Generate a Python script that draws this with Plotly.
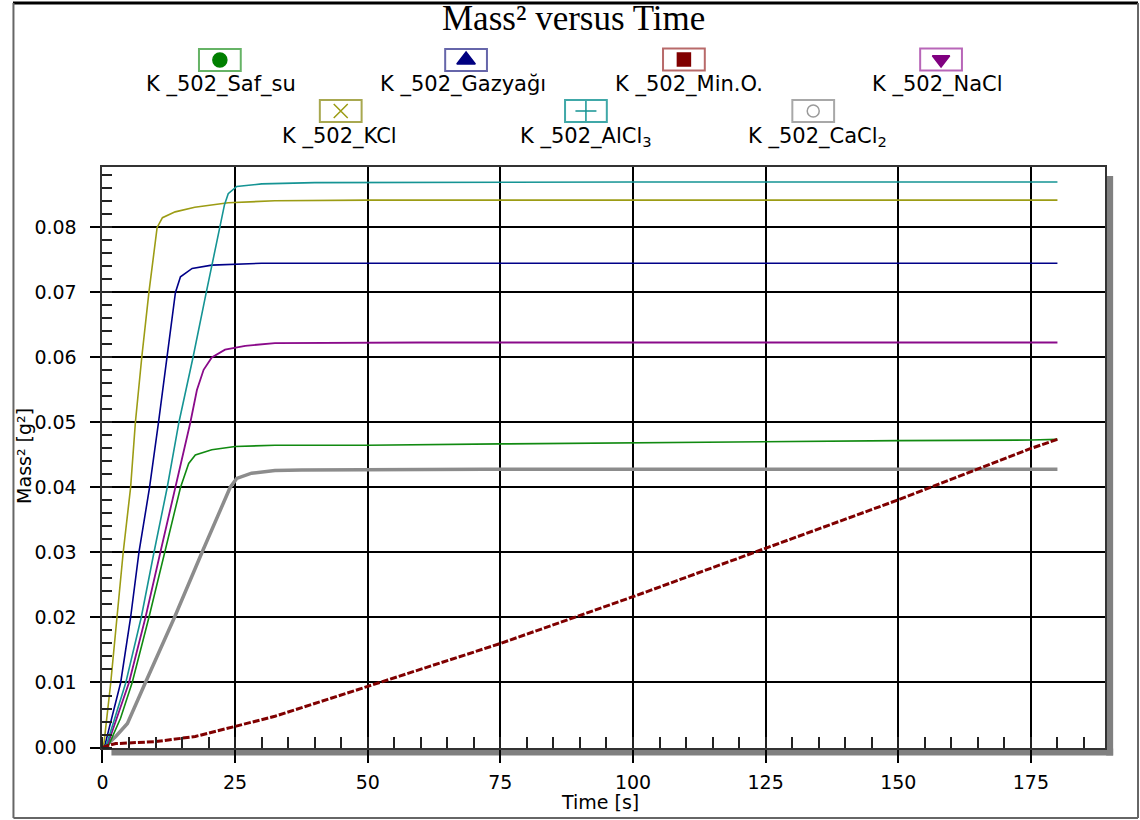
import plotly.graph_objects as go

W, H = 1140, 820          # target picture size
H_LAYOUT = 831            # layout height (the photo is squeezed vertically to 820)
KY = H_LAYOUT / H

# ---------------- data ----------------
t_saf = [0, 1.2, 3.4, 5.6, 8.75, 11.75, 14.7, 16.25, 17.5, 20.6, 25, 32.5, 50, 75, 100, 125, 150, 175, 180]
v_saf = [0, 0.0004, 0.0045, 0.010, 0.020, 0.030, 0.040, 0.0437, 0.0450, 0.0458, 0.0463, 0.0465, 0.0465, 0.0467, 0.0469, 0.0470, 0.0472, 0.0473, 0.0474]

t_gaz = [0, 0.5, 3.43, 5.3, 6.87, 8.87, 10.56, 12.2, 13.75, 14.7, 16.9, 20.6, 30, 60, 100, 150, 180]
v_gaz = [0, 0.0005, 0.010, 0.020, 0.030, 0.040, 0.050, 0.060, 0.070, 0.0724, 0.0737, 0.0742, 0.0745, 0.0745, 0.0745, 0.0745, 0.0745]

t_min = [0, 1, 2.5, 10, 17.5, 25, 32.5, 50, 75, 100, 109.4, 125, 150, 175, 180]
v_min = [0, 0.0003, 0.0006, 0.0009, 0.0017, 0.0032, 0.0048, 0.0094, 0.0160, 0.0232, 0.0260, 0.0306, 0.0381, 0.0460, 0.0474]

t_nacl = [0, 1, 5.0, 8.1, 10.9, 13.75, 16.56, 17.8, 19.06, 20.6, 23.1, 26.9, 32.5, 60, 100, 150, 180]
v_nacl = [0, 0.0005, 0.010, 0.020, 0.030, 0.040, 0.050, 0.055, 0.0581, 0.060, 0.0612, 0.0618, 0.0622, 0.0623, 0.0623, 0.0623, 0.0623]

t_kcl = [0, 0.3, 1.56, 2.7, 3.9, 5.3, 6.2, 7.4, 8.75, 10.3, 11.3, 13.7, 17.4, 23.7, 32.5, 50, 100, 150, 180]
v_kcl = [0, 0.0008, 0.010, 0.020, 0.030, 0.040, 0.050, 0.060, 0.070, 0.080, 0.0815, 0.0824, 0.0831, 0.0838, 0.0841, 0.0842, 0.0842, 0.0842, 0.0842]

t_alcl = [0, 0.8, 4.4, 7.3, 9.7, 12.2, 14.4, 17.06, 19.56, 22.2, 23.0, 23.7, 25.3, 30, 40, 100, 150, 180]
v_alcl = [0, 0.0005, 0.010, 0.020, 0.030, 0.040, 0.050, 0.060, 0.070, 0.080, 0.0835, 0.0852, 0.0863, 0.0867, 0.0869, 0.0870, 0.0870, 0.0870]

t_cacl = [0, 0.5, 2.5, 4.7, 8.1, 13.56, 18.75, 24.06, 25.3, 28.1, 32.5, 37.5, 72, 120, 180]
v_cacl = [0, 0.0002, 0.0017, 0.0037, 0.010, 0.020, 0.030, 0.040, 0.0414, 0.0422, 0.0426, 0.0427, 0.0428, 0.0428, 0.0428]

series_names = ["K _502_Saf_su", "K _502_Gazyağı", "K _502_Min.O.", "K _502_NaCl",
                "K _502_KCl", "K _502_AlCl<sub>3</sub>", "K _502_CaCl<sub>2</sub>"]

x_ticks = [0, 25, 50, 75, 100, 125, 150, 175]
y_ticks = [0.00, 0.01, 0.02, 0.03, 0.04, 0.05, 0.06, 0.07, 0.08]

# ---------------- styling ----------------
FONT = "DejaVu Sans"

def px(x):
    return x / W

def py(y):
    return 1 - y / H

L, R, T, B = 97, 1105, 167, 747.5

fig = go.Figure()

traces = [
    (t_cacl, v_cacl, "#8c8c8c", 3.5, "solid"),
    (t_saf, v_saf, "#118a11", 1.6, "solid"),
    (t_gaz, v_gaz, "#000088", 1.6, "solid"),
    (t_nacl, v_nacl, "#8a0a8a", 1.8, "solid"),
    (t_kcl, v_kcl, "#9c9c14", 1.6, "solid"),
    (t_alcl, v_alcl, "#159494", 1.6, "solid"),
    (t_min, v_min, "#800000", 3, "7px,2px"),
]
for t, v, c, w, d in traces:
    fig.add_trace(go.Scatter(x=t, y=v, mode="lines", xaxis="x", yaxis="y",
                             line=dict(color=c, width=w, dash=d), showlegend=False,
                             hoverinfo="skip"))

leg = [
    (series_names[0], 215, 60, 216, 85, "circle", "#007f00", 14, "#66b366"),
    (series_names[1], 462.5, 60, 459, 85, "triangle-up", "#000080", 16, "#6666aa"),
    (series_names[2], 681.5, 59.5, 687, 85, "square", "#800000", 13, "#b86a6a"),
    (series_names[3], 940, 59.5, 936, 85, "triangle-down", "#800080", 15, "#b866b8"),
    (series_names[4], 336.5, 111, 335, 136, "x-thin-open", "#9c9c14", 14, "#a8a850"),
    (series_names[5], 583, 111, 583, 137, "cross-thin-open", "#159494", 15, "#40a8a8"),
    (series_names[6], 811.5, 111, 816, 137, "circle-open", "#9a9a9a", 12, "#a8a8a8"),
]

shapes = []
annotations = []
for name, bx, by, lx, ly, sym, mc, ms, bc in leg:
    shapes.append(dict(type="rect", xref="paper", yref="paper",
                       x0=px(bx - 21), x1=px(bx + 21), y0=py(by + 11), y1=py(by - 11),
                       line=dict(color=bc, width=2), fillcolor="rgba(0,0,0,0)", layer="above"))
    fig.add_trace(go.Scatter(x=[bx], y=[by], xaxis="x2", yaxis="y2", mode="markers",
                             marker=dict(symbol=sym, color=mc, size=ms,
                                         line=dict(color=mc, width=1.5)),
                             showlegend=False, hoverinfo="skip", cliponaxis=False))
    annotations.append(dict(x=px(lx), y=py(ly), xref="paper", yref="paper",
                            text=name, showarrow=False, xanchor="center", yanchor="middle",
                            font=dict(family=FONT, size=21, color="black")))

annotations.append(dict(x=px(570), y=py(18), xref="paper", yref="paper",
                        text="Mass² versus Time", showarrow=False,
                        xanchor="center", yanchor="middle",
                        font=dict(family="Liberation Serif", size=35, color="black")))
annotations.append(dict(x=px(597), y=py(802), xref="paper", yref="paper",
                        text="Time [s]", showarrow=False, xanchor="center", yanchor="middle",
                        font=dict(family=FONT, size=19, color="black")))
annotations.append(dict(x=px(18), y=py(456), xref="paper", yref="paper",
                        text="Mass² [g²]", showarrow=False, textangle=-90,
                        xanchor="center", yanchor="middle",
                        font=dict(family=FONT, size=19, color="black")))

# drop shadow of the plot area
shapes.append(dict(type="rect", xref="paper", yref="paper",
                   x0=px(R + 1), x1=px(R + 8), y0=py(B + 8), y1=py(T + 9),
                   line=dict(width=0), fillcolor="#808080", layer="below"))
shapes.append(dict(type="rect", xref="paper", yref="paper",
                   x0=px(L + 9), x1=px(R + 8), y0=py(B + 8), y1=py(B + 1),
                   line=dict(width=0), fillcolor="#808080", layer="below"))

# outer frame
shapes.append(dict(type="line", xref="paper", yref="paper", x0=px(7), x1=px(1138),
                   y0=py(3), y1=py(3), line=dict(color="black", width=3)))
shapes.append(dict(type="line", xref="paper", yref="paper", x0=px(7.5), x1=px(7.5),
                   y0=py(3), y1=py(818), line=dict(color="#666666", width=2)))
shapes.append(dict(type="line", xref="paper", yref="paper", x0=px(1138), x1=px(1138),
                   y0=py(3), y1=py(818), line=dict(color="#666666", width=2)))
shapes.append(dict(type="line", xref="paper", yref="paper", x0=px(7.5), x1=px(1138),
                   y0=py(818), y1=py(818), line=dict(color="#666666", width=2)))

fig.update_layout(
    width=W, height=H_LAYOUT, autosize=False,
    margin=dict(l=0, r=0, t=0, b=0, pad=0),
    paper_bgcolor="white", plot_bgcolor="rgba(0,0,0,0)",
    showlegend=False,
    shapes=shapes, annotations=annotations,
    xaxis=dict(domain=[px(L), px(R)], range=[0, 189], anchor="y",
               tickmode="array", tickvals=x_ticks, ticktext=[str(v) for v in x_ticks],
               ticks="outside", ticklen=13 * KY, tickwidth=1.5, tickcolor="black",
               ticklabelstandoff=4,
               showgrid=True, gridcolor="black", gridwidth=1.5,
               showline=True, linecolor="#333333", linewidth=2, mirror=True,
               zeroline=False,
               tickfont=dict(family=FONT, size=19, color="black"),
               minor=dict(dtick=5, tick0=0, ticks="inside", ticklen=10 * KY,
                          tickwidth=1.5, tickcolor="#222222", showgrid=False)),
    yaxis=dict(domain=[py(B), py(T)], range=[0, 0.0893], anchor="x",
               tickmode="array", tickvals=y_ticks, ticktext=[f"{v:.2f}" for v in y_ticks],
               ticks="outside", ticklen=10, tickwidth=1.5, tickcolor="black",
               ticklabelstandoff=10,
               showgrid=True, gridcolor="black", gridwidth=1.5,
               showline=True, linecolor="#333333", linewidth=2, mirror=True,
               zeroline=False,
               tickfont=dict(family=FONT, size=19, color="black"),
               minor=dict(dtick=0.002, tick0=0, ticks="inside", ticklen=10,
                          tickwidth=1.5, tickcolor="#222222", showgrid=False)),
    xaxis2=dict(domain=[0, 1], range=[0, W], anchor="y2", visible=False, fixedrange=True),
    yaxis2=dict(domain=[0, 1], range=[H, 0], anchor="x2", visible=False, fixedrange=True),
)

fig.write_html("out.html")
